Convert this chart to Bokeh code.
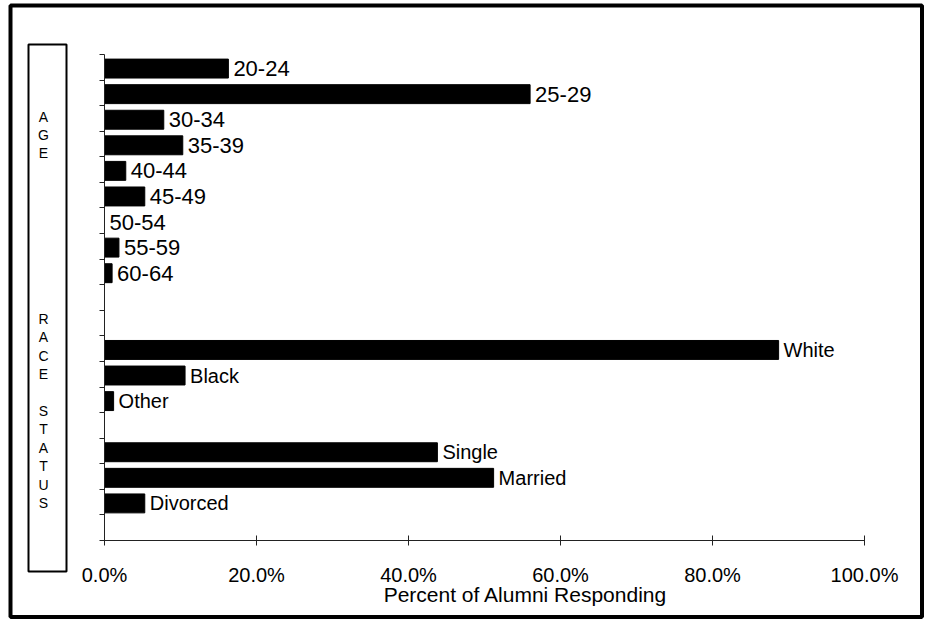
from bokeh.plotting import figure
from bokeh.models import (Range1d, FixedTicker, NumeralTickFormatter, LinearAxis,
                          ColumnDataSource)
from bokeh.embed import file_html
from bokeh.resources import INLINE
from bokeh.core.properties import value

# ---------------- data ----------------
age_groups = ["20-24", "25-29", "30-34", "35-39", "40-44", "45-49", "50-54", "55-59", "60-64"]
age_pct = [16.3, 56.0, 7.8, 10.3, 2.8, 5.3, 0.0, 1.9, 1.0]
race_groups = ["White", "Black", "Other"]
race_pct = [88.7, 10.6, 1.2]
status_groups = ["Single", "Married", "Divorced"]
status_pct = [43.8, 51.2, 5.3]
x_tick_values = [0, 20, 40, 60, 80, 100]
x_axis_title = "Percent of Alumni Responding"
panel_words = ["AGE", "RACE", "STATUS"]

# ---------------- layout (pixels) ----------------
W, H = 926, 621
X0, X100 = 104, 864          # pixel positions of 0% and 100%
Y_TOP, Y_AXIS = 54, 540      # pixel positions of first slot top and x axis
gaps_after = [2, 1, 1]       # empty slots after each group
groups = [(age_groups, age_pct, "22px"), (race_groups, race_pct, "20px"),
          (status_groups, status_pct, "20px")]
n_slots = sum(len(g[0]) for g in groups) + sum(gaps_after)
sx = X100 - X0
sy = (Y_AXIS - Y_TOP) / n_slots

def dx(px):
    return (px - X0) / sx

def dy(py):
    return (py - Y_TOP) / sy

p = figure(width=W, height=H, output_backend="svg", toolbar_location=None,
           x_range=Range1d(dx(0), dx(W)), y_range=Range1d(dy(H), dy(0)),
           x_axis_location=None, y_axis_location=None,
           min_border=0)
p.outline_line_color = None
p.xgrid.visible = False
p.ygrid.visible = False
p.background_fill_color = "white"
p.border_fill_color = "white"

FONT = value("Liberation Sans")

slot = 0
for (names, vals, fsize), gap in zip(groups, gaps_after):
    ys = [slot + i + 0.55 for i in range(len(names))]
    src = ColumnDataSource(dict(y=ys, right=[v / 100 for v in vals], name=names))
    p.hbar(y="y", left=0, right="right", height=0.74, source=src,
           fill_color="black", line_color="black", line_width=1)
    p.text(x="right", y="y", text="name", source=src, x_offset=5,
           text_baseline="middle", text_align="left", text_font=FONT,
           text_font_size=fsize, text_color="black")
    slot += len(names) + gap

# x axis fixed at the bottom of the last slot
xa = LinearAxis(fixed_location=n_slots, bounds=(0, 1))
xa.ticker = FixedTicker(ticks=[v / 100 for v in x_tick_values])
xa.formatter = NumeralTickFormatter(format="0.0%")
xa.major_tick_in = 5
xa.major_tick_out = 5
xa.minor_tick_line_color = None
xa.axis_line_color = "#222222"
xa.major_tick_line_color = "#222222"
xa.major_label_text_font = "Liberation Sans"
xa.major_label_text_font_size = "20px"
xa.major_label_text_color = "black"
xa.major_label_standoff = 18
p.add_layout(xa, "below")

# y axis fixed at 0%, tick marks between slots, no labels
ya = LinearAxis(fixed_location=0, bounds=(0, n_slots))
ya.ticker = FixedTicker(ticks=list(range(n_slots + 1)))
ya.major_tick_in = 0
ya.major_tick_out = 5
ya.minor_tick_line_color = None
ya.major_label_overrides = {i: "" for i in range(n_slots + 1)}
ya.major_label_standoff = 0
ya.axis_line_color = "#222222"
ya.major_tick_line_color = "#222222"
p.add_layout(ya, "left")

# axis title
p.text(x=[dx(525)], y=[dy(594)], text=[x_axis_title], text_align="center",
       text_baseline="middle", text_font=FONT, text_font_size="21px", text_color="black")

# left panel box with stacked letters
p.quad(left=[dx(28)], right=[dx(66)], top=[dy(44)], bottom=[dy(571)],
       fill_alpha=0, line_color="black", line_width=2)
letters = list(panel_words[0]) + [""] * 8 + list(panel_words[1]) + [""] + list(panel_words[2])
lx, ly, lt = [], [], []
for k, ch in enumerate(letters):
    if ch:
        lx.append(dx(43))
        ly.append(dy(116 + 18.4 * k))
        lt.append(ch)
p.text(x=lx, y=ly, text=lt, text_align="center", text_baseline="middle",
       text_font=FONT, text_font_size="14px", text_color="black")

# outer frame
p.quad(left=[dx(10)], right=[dx(921.5)], top=[dy(5)], bottom=[dy(616.5)],
       fill_alpha=0, line_color="black", line_width=4)

open("out.html", "w").write(file_html(p, INLINE))
